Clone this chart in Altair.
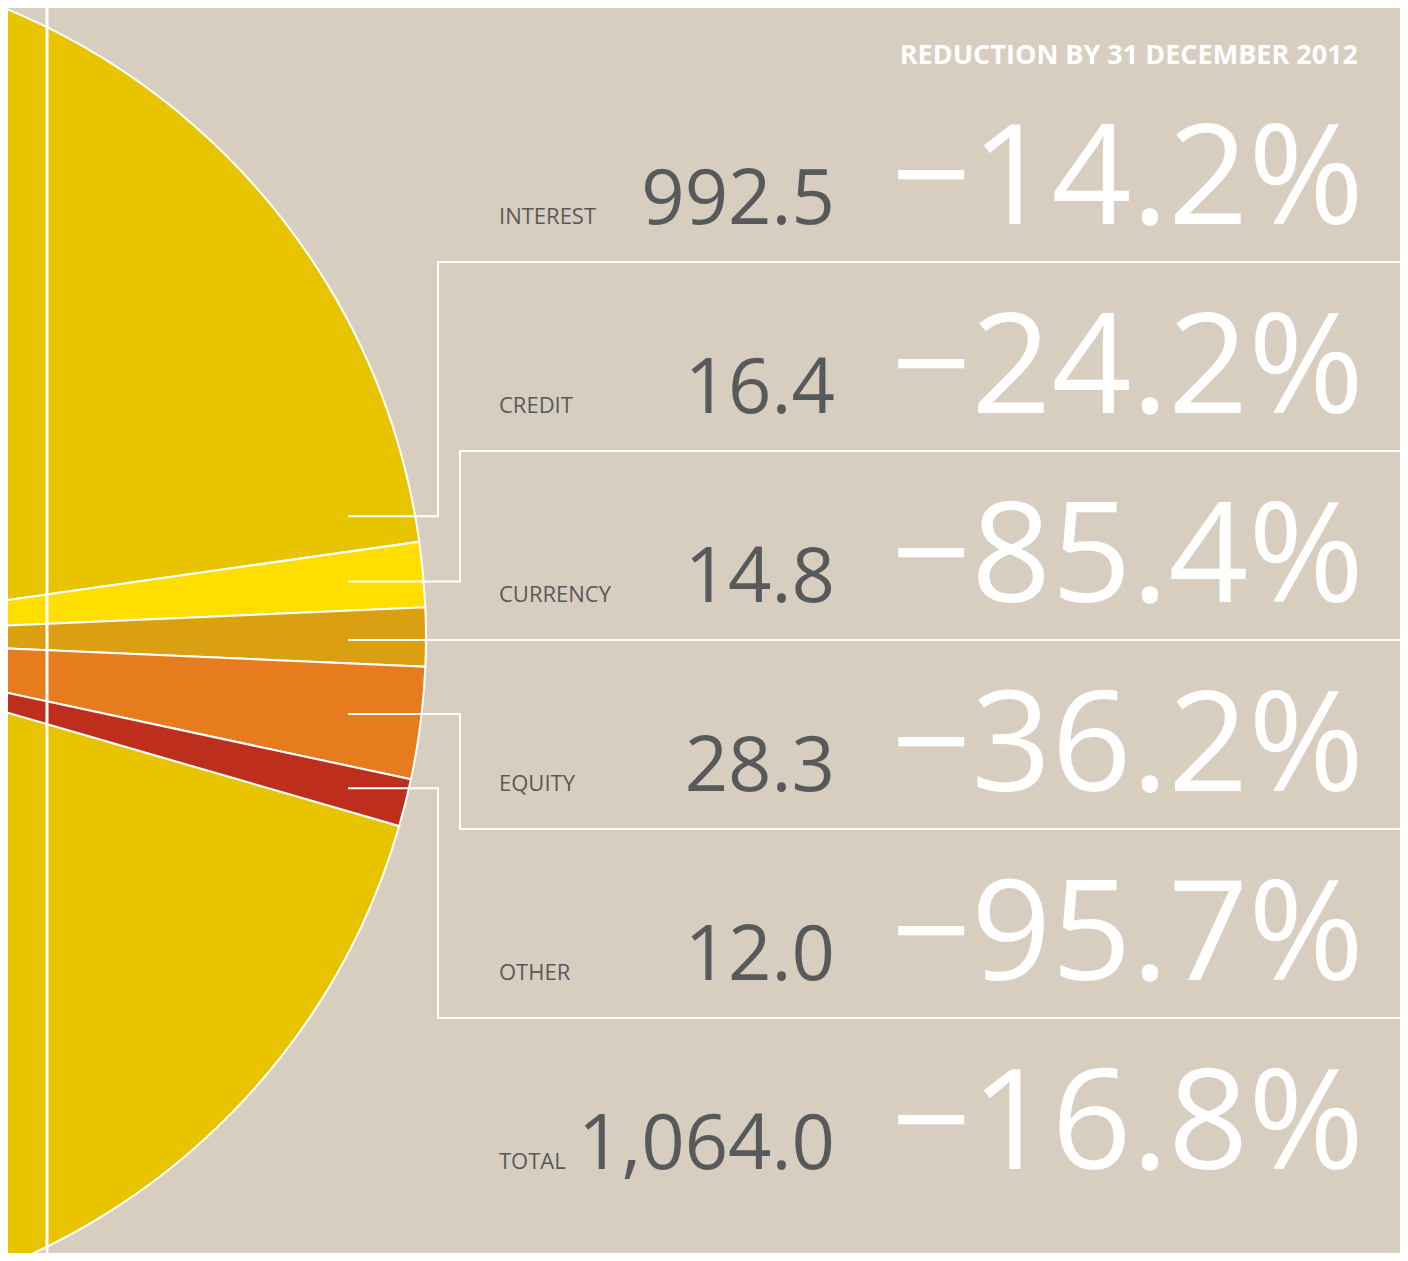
import math
import altair as alt
import pandas as pd

# ---------------- data ----------------
categories = ["INTEREST", "CREDIT", "CURRENCY", "EQUITY", "OTHER"]
amounts = [992.5, 16.4, 14.8, 28.3, 12.0]
row_labels = ["INTEREST", "CREDIT", "CURRENCY", "EQUITY", "OTHER", "TOTAL"]
row_values = ["992.5", "16.4", "14.8", "28.3", "12.0", "1,064.0"]
row_changes = ["−14.2%", "−24.2%", "−85.4%", "−36.2%", "−95.7%", "−16.8%"]
title_text = "REDUCTION BY 31 DECEMBER 2012"

# ---------------- layout / style ----------------
W, H = 1392, 1245
BG = "#D8CEC0"
TEXT_GREY = "#58595B"
slice_colors = ["#E8C300", "#FFDE00", "#DAA012", "#E77C1E", "#BD2F1C"]
pie_sequence = ["CREDIT", "CURRENCY", "EQUITY", "OTHER", "INTEREST"]  # clockwise
CX, CY, R = -262, 629, 680
ROW_BASE, ROW_STEP, LINE_DROP = 216, 189, 38
ANCHOR_X = 340
ELBOW_X = {"INTEREST": 430, "CREDIT": 452, "CURRENCY": None, "EQUITY": 452, "OTHER": 430}
INTEREST_ANCHOR_OFFSET = math.radians(3.3)
FONT = "Open Sans"

total = sum(amounts)
amt = dict(zip(categories, amounts))
# rotate the pie so the CURRENCY slice is centred on the horizontal
start = math.pi / 2 - (amt["CREDIT"] + amt["CURRENCY"] / 2) / total * 2 * math.pi

pie_df = pd.DataFrame({
    "category": categories,
    "amount": amounts,
    "seq": [pie_sequence.index(c) for c in categories],
})

pie = alt.Chart(pie_df).mark_arc(radius=R, stroke="white", strokeWidth=2, clip=True).encode(
    theta=alt.Theta("amount:Q", stack=True,
                    scale=alt.Scale(range=[start, start + 2 * math.pi])),
    order=alt.Order("seq:Q", sort="ascending"),
    color=alt.Color("category:N", scale=alt.Scale(domain=categories, range=slice_colors), legend=None),
    x=alt.value(CX),
    y=alt.value(CY),
)

# anchor angle of each slice (clockwise from 12 o'clock), from the data
mid_angle = {}
acc = start
for c in pie_sequence:
    span = amt[c] / total * 2 * math.pi
    mid_angle[c] = acc + span / 2
    acc += span
mid_angle["INTEREST"] = start - INTEREST_ANCHOR_OFFSET

path_rows = []
for i, c in enumerate(categories):
    th = mid_angle[c]
    ay = CY - (ANCHOR_X - CX) * math.cos(th) / math.sin(th)
    ly = ROW_BASE + ROW_STEP * i + LINE_DROP
    ex = ELBOW_X[c]
    if ex is None:
        pts = [(ANCHOR_X, ly), (W, ly)]
    else:
        pts = [(ANCHOR_X, ay), (ex, ay), (ex, ly), (W, ly)]
    for k, (px, py) in enumerate(pts):
        path_rows.append({"cat": c, "k": k, "px": px, "py": py})
paths_df = pd.DataFrame(path_rows)

connectors = alt.Chart(paths_df).mark_line(color="white", strokeWidth=2, strokeJoin="miter").encode(
    x=alt.X("px:Q", scale=None),
    y=alt.Y("py:Q", scale=None),
    detail="cat:N",
    order=alt.Order("k:Q"),
)

vline = alt.Chart(pd.DataFrame({"a": [0]})).mark_rule(color="white", strokeWidth=3).encode(
    x=alt.value(39), y=alt.value(0), y2=alt.value(H)
)

rows_df = pd.DataFrame({
    "row": list(range(len(row_labels))),
    "label": row_labels,
    "value": row_values,
    "change": row_changes,
})
row_y = alt.Y("row:Q", axis=None,
              scale=alt.Scale(domain=[0, len(row_labels) - 1],
                              range=[ROW_BASE, ROW_BASE + ROW_STEP * (len(row_labels) - 1)]))

labels = alt.Chart(rows_df).mark_text(align="left", baseline="alphabetic", font=FONT,
                                      fontSize=22, color=TEXT_GREY).encode(
    x=alt.value(491), y=row_y, text="label:N")
values = alt.Chart(rows_df).mark_text(align="right", baseline="alphabetic", font=FONT,
                                      fontSize=76, color=TEXT_GREY).encode(
    x=alt.value(827), y=row_y, text="value:N")
changes = alt.Chart(rows_df).mark_text(align="right", baseline="alphabetic", font=FONT,
                                       fontSize=140, color="white").encode(
    x=alt.value(1356), y=row_y, text="change:N")

title = alt.Chart(pd.DataFrame({"t": [title_text]})).mark_text(
    align="right", baseline="alphabetic", font=FONT, fontSize=27, fontWeight="bold", color="white"
).encode(x=alt.value(1350), y=alt.value(56), text="t:N")

chart = alt.layer(pie, vline, connectors, labels, values, changes, title).resolve_scale(
    x="independent", y="independent"
).properties(
    width=W, height=H, background=BG, padding=0,
    autosize=alt.AutoSizeParams(type="none"),
).configure_view(stroke=None)

chart.save("out.html", embed_options={"renderer": "svg", "actions": False})
